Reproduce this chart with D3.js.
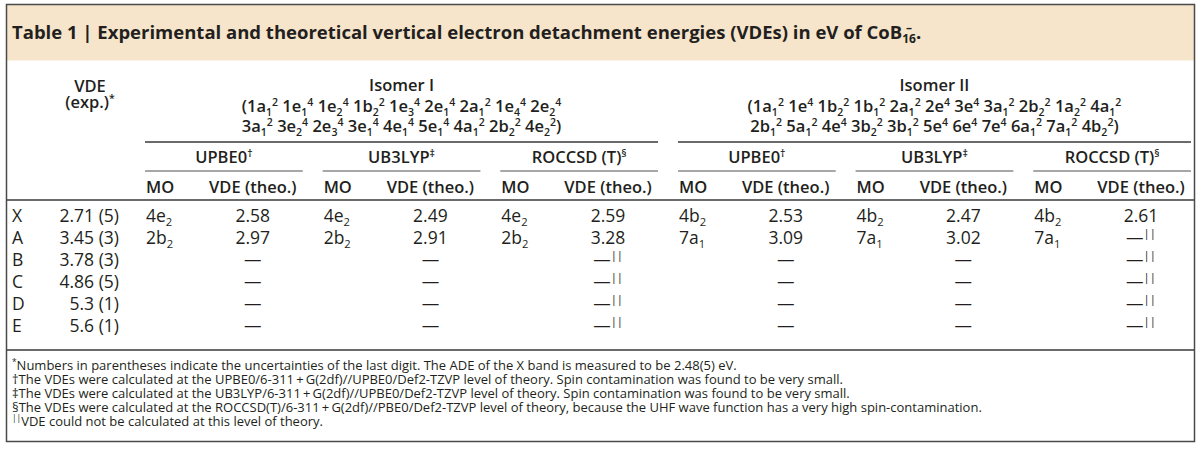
<!DOCTYPE html>
<html lang="en">
<head>
<meta charset="UTF-8" />
<title>Table 1 - VDEs of CoB16-</title>
<script src="https://cdn.jsdelivr.net/npm/d3@7"></script>
<style>
  body { margin: 0; background: #fff; }
  svg text { font-family: "Open Sans", "Noto Sans", sans-serif; fill: #231f20; white-space: pre; }
</style>
</head>
<body>
<svg id="chart" width="1200" height="452"></svg>
<script>
const bands = ["X", "A", "B", "C", "D", "E"];
const vdeExp = ["2.71 (5)", "3.45 (3)", "3.78 (3)", "4.86 (5)", "5.3 (1)", "5.6 (1)"];

const isomers = ["Isomer I", "Isomer II"];
const configI = [
  "(1a_1^2 1e_1^4 1e_2^4 1b_2^2 1e_3^4 2e_1^4 2a_1^2 1e_4^4 2e_2^4",
  "3a_1^2 3e_2^4 2e_3^4 3e_1^4 4e_1^4 5e_1^4 4a_1^2 2b_2^2 4e_2^2)"
];
const configII = [
  "(1a_1^2 1e^4 1b_2^2 1b_1^2 2a_1^2 2e^4 3e^4 3a_1^2 2b_2^2 1a_2^2 4a_1^2",
  "2b_1^2 5a_1^2 4e^4 3b_2^2 3b_1^2 5e^4 6e^4 7e^4 6a_1^2 7a_1^2 4b_2^2)"
];
const methods = ["UPBE0^†", "UB3LYP^‡", "ROCCSD (T)^§"];

const moI = ["4e_2", "2b_2", null, null, null, null];
const moII = ["4b_2", "7a_1", null, null, null, null];
const upbe0I = [2.58, 2.97, null, null, null, null];
const ub3lypI = [2.49, 2.91, null, null, null, null];
const roccsdI = [2.59, 3.28, null, null, null, null];
const upbe0II = [2.53, 3.09, null, null, null, null];
const ub3lypII = [2.47, 3.02, null, null, null, null];
const roccsdII = [2.61, null, null, null, null, null];

const footnotes = [
  "^*Numbers in parentheses indicate the uncertainties of the last digit. The ADE of the X band is measured to be 2.48(5) eV.",
  "†The VDEs were calculated at the UPBE0/6-311\u2009+\u2009G(2df)//UPBE0/Def2-TZVP level of theory. Spin contamination was found to be very small.",
  "‡The VDEs were calculated at the UB3LYP/6-311\u2009+\u2009G(2df)//UPBE0/Def2-TZVP level of theory. Spin contamination was found to be very small.",
  "§The VDEs were calculated at the ROCCSD(T)/6-311\u2009+\u2009G(2df)//PBE0/Def2-TZVP level of theory, because the UHF wave function has a very high spin-contamination.",
  "^{||}VDE could not be calculated at this level of theory."
];

// groups of (MO, VDE) column pairs, left to right
const groups = [
  { key: "I-0", mo: moI, vde: upbe0I, mark: "" },
  { key: "I-1", mo: moI, vde: ub3lypI, mark: "" },
  { key: "I-2", mo: moI, vde: roccsdI, mark: "^{||}" },
  { key: "II-0", mo: moII, vde: upbe0II, mark: "" },
  { key: "II-1", mo: moII, vde: ub3lypII, mark: "" },
  { key: "II-2", mo: moII, vde: roccsdII, mark: "^{||}" }
];

const svg = d3.select("#chart");
const frameL = 6.5, frameR = 1194.5, frameT = 4.5, frameB = 441.5;

// x: six column groups; y: one band per detachment feature
const x = d3.scaleBand().domain(groups.map(g => g.key)).range([145, 1191]).paddingInner(0.112);
const y = d3.scaleBand().domain(bands).range([205, 337]);

// little parser for sub/superscripts: _x or _{..}, ^x or ^{..}
function rich(text, str, size) {
  const re = /([_^])(\{[^}]*\}|.)/g;
  const parts = [];
  let last = 0, m;
  while ((m = re.exec(str))) {
    if (m.index > last) parts.push({ t: str.slice(last, m.index), k: 0 });
    let v = m[2];
    if (v[0] === "{") v = v.slice(1, -1);
    parts.push({ t: v, k: m[1] === "_" ? 1 : -1 });
    last = re.lastIndex;
  }
  if (last < str.length) parts.push({ t: str.slice(last), k: 0 });
  let cur = 0;
  parts.forEach(p => {
    const target = p.k > 0 ? size * 0.22 : p.k < 0 ? -size * 0.38 : 0;
    text.append("tspan")
      .attr("dy", target - cur)
      .attr("font-size", p.k ? size * 0.64 : size)
      .text(p.t);
    cur = target;
  });
  return text;
}

// title band
svg.append("rect").attr("x", frameL).attr("y", frameT).attr("width", frameR - frameL).attr("height", 56)
  .attr("fill", "#f6e5cb");

const titleSize = 18.5;
const titleMain = "Table 1 | Experimental and theoretical vertical electron detachment energies (VDEs) in eV of CoB";
const title = svg.append("text").attr("x", 12).attr("y", 38.5)
  .attr("font-size", titleSize).attr("font-weight", 700);
title.append("tspan").text(titleMain);
title.append("tspan").attr("dy", 4.5).attr("font-size", 12).text("16");
title.append("tspan").attr("dy", -4.5).text(".");
{
  const n = title.node();
  const i0 = titleMain.length;
  const xa = n.getStartPositionOfChar(i0).x, xb = n.getEndPositionOfChar(i0 + 1).x;
  svg.append("text").attr("x", (xa + xb) / 2).attr("y", 32).attr("text-anchor", "middle")
    .attr("font-size", 12).attr("font-weight", 700).text("\u2013");
}

// header: experimental column
const hSize = 16.5, hWeight = 600;
svg.append("text").attr("x", 90).attr("y", 92).attr("text-anchor", "middle")
  .attr("font-size", hSize).attr("font-weight", hWeight).text("VDE");
rich(svg.append("text").attr("x", 90).attr("y", 108).attr("text-anchor", "middle")
  .attr("font-size", hSize).attr("font-weight", hWeight), "(exp.)^*", hSize);

// header: isomer blocks
[[groups.slice(0, 3), configI], [groups.slice(3), configII]].forEach(([gs, cfg], i) => {
  const x0 = x(gs[0].key), x1 = x(gs[2].key) + x.bandwidth();
  const cx = (x0 + x1) / 2;
  svg.append("text").attr("x", cx).attr("y", 91).attr("text-anchor", "middle")
    .attr("font-size", hSize).attr("font-weight", hWeight).text(isomers[i]);
  cfg.forEach((line, j) => {
    rich(svg.append("text").attr("x", cx).attr("y", 112 + j * 20).attr("text-anchor", "middle")
      .attr("font-size", hSize).attr("font-weight", hWeight), line, hSize);
  });
  svg.append("line").attr("x1", x0).attr("x2", x1).attr("y1", 142).attr("y2", 142)
    .attr("stroke", "#3a3a3a").attr("stroke-width", 1.6);
});

// header: method labels and column names
groups.forEach((g, i) => {
  const x0 = x(g.key), x1 = x0 + x.bandwidth();
  rich(svg.append("text").attr("x", (x0 + x1) / 2).attr("y", 163).attr("text-anchor", "middle")
    .attr("font-size", hSize).attr("font-weight", hWeight), methods[i % 3], hSize);
  svg.append("line").attr("x1", x0).attr("x2", x1).attr("y1", 171).attr("y2", 171)
    .attr("stroke", "#8a8a8a").attr("stroke-width", 1.6);
  svg.append("text").attr("x", x0 + 1).attr("y", 193)
    .attr("font-size", hSize).attr("font-weight", hWeight).text("MO");
  svg.append("text").attr("x", x1 - 50).attr("y", 193).attr("text-anchor", "middle")
    .attr("font-size", hSize).attr("font-weight", hWeight).text("VDE (theo.)");
});

svg.append("line").attr("x1", frameL).attr("x2", frameR).attr("y1", 200).attr("y2", 200)
  .attr("stroke", "#3a3a3a").attr("stroke-width", 1.6);

// body rows
const dSize = 17.5;
const base = b => y(b) + y.bandwidth() / 2 + 6;
bands.forEach((b, r) => {
  svg.append("text").attr("x", 12).attr("y", base(b)).attr("font-size", dSize).text(b);
  svg.append("text").attr("x", 119).attr("y", base(b)).attr("text-anchor", "end")
    .attr("font-size", dSize).text(vdeExp[r]);
});

groups.forEach(g => {
  const x0 = x(g.key), x1 = x0 + x.bandwidth();
  bands.forEach((b, r) => {
    if (g.mo[r]) {
      rich(svg.append("text").attr("x", x0 + 1).attr("y", base(b)).attr("font-size", dSize), g.mo[r], dSize);
    }
    const v = g.vde[r];
    const t = svg.append("text").attr("x", x1 - 50).attr("y", base(b)).attr("text-anchor", "middle")
      .attr("font-size", dSize);
    if (v != null) t.text(v.toFixed(2));
    else rich(t, "\u2014" + g.mark, dSize);
  });
});

svg.append("line").attr("x1", frameL).attr("x2", frameR).attr("y1", 350).attr("y2", 350)
  .attr("stroke", "#3a3a3a").attr("stroke-width", 1.6);

// footnotes
const fSize = 13;
footnotes.forEach((f, i) => {
  rich(svg.append("text").attr("x", 12).attr("y", 369.5 + i * 14).attr("font-size", fSize), f, fSize);
});

// outer frame
svg.append("rect").attr("x", frameL).attr("y", frameT).attr("width", frameR - frameL).attr("height", frameB - frameT)
  .attr("fill", "none").attr("stroke", "#4a4a4a").attr("stroke-width", 1.5);
</script>
</body>
</html>
